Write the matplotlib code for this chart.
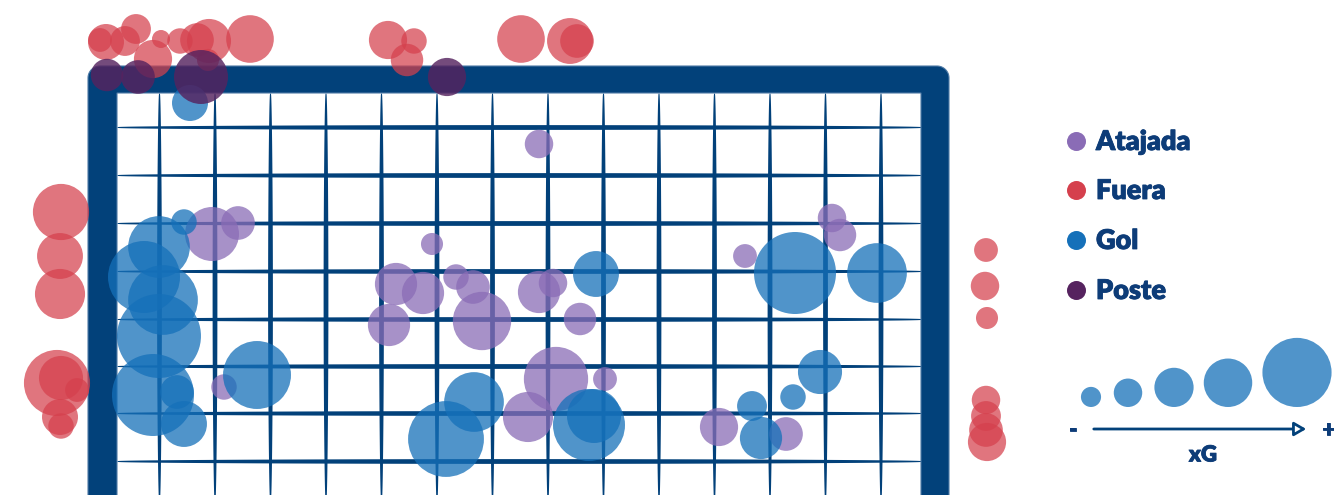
import numpy as np
import matplotlib
matplotlib.use("Agg")
import matplotlib.pyplot as plt
from matplotlib.patches import FancyArrowPatch
import matplotlib.patheffects as pe

# ---------------- data ----------------
categories = ["Atajada", "Fuera", "Gol", "Poste"]

# shot positions (canvas units of the goal drawing) and xG
atajada_x = [539, 212, 238, 224, 432, 396, 423, 456, 473, 389, 482, 539, 553, 580, 556, 605, 528, 832, 840, 745, 719, 786]
atajada_y = [144, 234, 223, 387, 244, 284, 293, 277, 287, 325, 321, 292, 283, 319, 379, 379, 417, 218, 235, 256, 427, 434]
atajada_xg = [0.10, 0.36, 0.14, 0.08, 0.06, 0.22, 0.22, 0.08, 0.14, 0.22, 0.42, 0.22, 0.10, 0.13, 0.51, 0.07, 0.31, 0.10, 0.13, 0.07, 0.18, 0.14]

fuera_x = [100, 106, 136, 125, 153, 161, 180, 197, 209, 208, 250, 388, 414, 407, 521, 570, 577,
           61, 60, 60, 57, 61, 77, 60, 61,
           986, 985, 987, 986, 986, 986, 987]
fuera_y = [40, 42, 29, 41, 59, 39, 41, 40, 41, 60, 39, 40, 41, 60, 39, 41, 41,
           212, 256, 294, 383, 378, 390, 417, 426,
           250, 286, 318, 400, 416, 430, 442]
fuera_xg = [0.07, 0.16, 0.11, 0.11, 0.18, 0.04, 0.08, 0.14, 0.24, 0.06, 0.28, 0.18, 0.08, 0.13, 0.28, 0.26, 0.14,
            0.39, 0.26, 0.31, 0.54, 0.24, 0.07, 0.16, 0.08,
            0.07, 0.10, 0.06, 0.10, 0.11, 0.14, 0.18]

gol_x = [190, 184, 159, 144, 163, 159, 153, 177, 184, 257, 596, 474, 446, 589, 594, 795, 877, 820, 793, 752, 761]
gol_y = [103, 222, 247, 277, 300, 336, 395, 392, 424, 375, 274, 402, 439, 425, 416, 273, 273, 372, 397, 406, 438]
gol_xg = [0.16, 0.08, 0.47, 0.64, 0.60, 0.87, 0.83, 0.14, 0.26, 0.57, 0.26, 0.44, 0.71, 0.64, 0.36, 0.83, 0.44, 0.24, 0.08, 0.11, 0.22]

poste_x = [107, 138, 201, 447]
poste_y = [75, 77, 77, 77]
poste_xg = [0.13, 0.14, 0.36, 0.18]

legend_xg = [0.05, 0.10, 0.19, 0.29, 0.59]

# ---------------- styles ----------------
W, H, DPI = 1334, 495, 100
NAVY = "#02417a"
TEXT = "#0d3c78"
colors = {"Atajada": "#8a6cb6", "Fuera": "#d5404d", "Gol": "#1570b9", "Poste": "#56235f"}
alphas = {"Atajada": 0.75, "Fuera": 0.72, "Gol": 0.75, "Poste": 0.82}
FONT = ["Lato", "DejaVu Sans"]
BOLDER = [pe.withStroke(linewidth=0.6, foreground=TEXT)]


def radius_px(xg):
    return 45.0 * np.sqrt(np.asarray(xg, dtype=float))


def size_pt2(xg):
    return (2 * radius_px(xg) * 72.0 / DPI) ** 2


fig = plt.figure(figsize=(W / DPI, H / DPI), dpi=DPI)
ax = fig.add_axes([0, 0, 1, 1])
ax.set_xlim(0, W)
ax.set_ylim(H, 0)
ax.axis("off")

# goal geometry
pl_out, pl_in = 88, 117
pr_in, pr_out = 921, 949
bt_out, bt_in = 66, 93
bottom = H + 5
net_x = [159 + 55.5 * k for k in range(14)]
net_y = [127, 175, 223, 271, 319, 366, 413, 461]

# net lines (tapered)
wmin, wmax = 0.8, 4.8
yy = np.linspace(bt_in, bottom, 300)
t = (yy - bt_in) / (bottom - bt_in)
wv = wmin + (wmax - wmin) * np.sin(np.pi * t) ** 0.5
for x0 in net_x:
    ax.fill_betweenx(yy, x0 - wv / 2, x0 + wv / 2, color=NAVY, lw=0, zorder=1)
xx = np.linspace(pl_in, pr_in, 400)
t = (xx - pl_in) / (pr_in - pl_in)
wh = wmin + (wmax - wmin) * np.sin(np.pi * t) ** 0.5
for y0 in net_y:
    ax.fill_between(xx, y0 - wh / 2, y0 + wh / 2, color=NAVY, lw=0, zorder=1)

# frame with rounded outer corners
r = 12
a1 = np.linspace(np.pi, np.pi / 2, 20)
a2 = np.linspace(np.pi / 2, 0, 20)
fx = [pl_out] + list(pl_out + r + r * np.cos(a1)) + list(pr_out - r + r * np.cos(a2)) + [pr_out, pr_in, pr_in, pl_in, pl_in]
fy = [bottom] + list(bt_out + r - r * np.sin(a1)) + list(bt_out + r - r * np.sin(a2)) + [bottom, bottom, bt_in, bt_in, bottom]
ax.fill(fx, fy, color=NAVY, lw=0.8, ec="#4f7aa6", zorder=2)

# shots
data = {
    "Fuera": (fuera_x, fuera_y, fuera_xg),
    "Atajada": (atajada_x, atajada_y, atajada_xg),
    "Gol": (gol_x, gol_y, gol_xg),
    "Poste": (poste_x, poste_y, poste_xg),
}
for cat, (xs, ys, xg) in data.items():
    ax.scatter(xs, ys, s=size_pt2(xg), color=colors[cat], alpha=alphas[cat], lw=0, zorder=3)

# category legend
leg_y = [141, 190, 240, 290]
for cat, y in zip(categories, leg_y):
    ax.scatter([1076], [y], s=(2 * 9.5 * 0.72) ** 2, color=colors[cat], lw=0, zorder=4)
    ax.text(1096, y + 9, cat, fontsize=19.5, fontweight="heavy", color=TEXT,
            family=FONT, va="baseline", ha="left", zorder=4, path_effects=BOLDER)

# size legend
leg_cx = [1091, 1128, 1174, 1228, 1297]
rads = radius_px(legend_xg)
ax.scatter(leg_cx, [407 - rr for rr in rads], s=size_pt2(legend_xg), color=colors["Gol"],
           alpha=0.75, lw=0, zorder=4)
arrow = FancyArrowPatch((1091, 429), (1309, 429), arrowstyle="-|>,head_length=4.5,head_width=2.6",
                        mutation_scale=1.6, lw=2, color=NAVY, fc="white", zorder=4)
ax.add_patch(arrow)
ax.text(1073, 430, "-", fontsize=17, fontweight="heavy", color=TEXT, family=FONT,
        ha="center", va="center", path_effects=BOLDER)
ax.text(1322, 430, "+", fontsize=17, fontweight="heavy", color=TEXT, family=FONT,
        ha="left", va="center", path_effects=BOLDER)
ax.text(1203, 455, "xG", fontsize=16, fontweight="heavy", color=TEXT, family=FONT,
        ha="center", va="center", path_effects=BOLDER)

fig.savefig("out.png", dpi=DPI, facecolor="white")
